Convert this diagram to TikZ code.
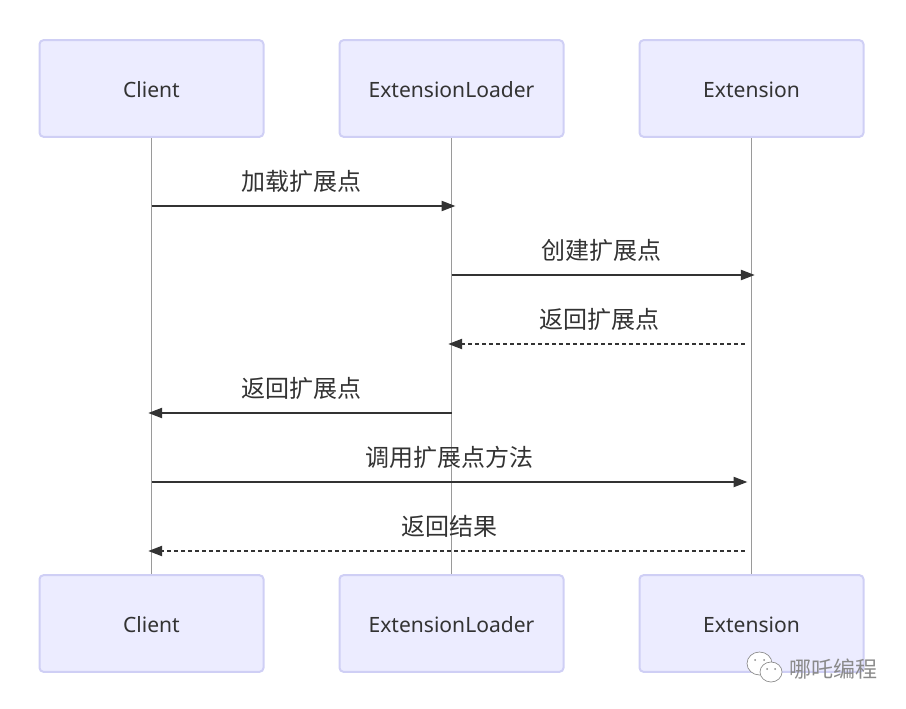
\documentclass[tikz,border=0pt]{standalone}
\usepackage{fontspec}
\setmainfont{Noto Sans}
\newfontfamily\cjk{Noto Sans CJK SC}
\usetikzlibrary{arrows.meta}
\usetikzlibrary{backgrounds}
\usetikzlibrary{positioning}
\definecolor{boxfill}{HTML}{ECECFF}
\definecolor{boxline}{HTML}{CFCFF5}
\definecolor{inkdark}{HTML}{333333}
\definecolor{lifeline}{HTML}{9A9A9A}
\definecolor{markgray}{HTML}{8A8A8A}
\tikzset{>={Triangle[length=10.5pt,width=7.5pt]},
  actorbox/.style={draw=boxline,fill=boxfill,line width=1.5pt,rounded corners=3pt,
    minimum width=168pt,minimum height=72.5pt,outer sep=0pt,inner sep=0pt,
    text height=13pt,text depth=0pt,
    text=inkdark,font=\fontsize{15.8}{20}\selectfont},
  life/.style={draw=lifeline,line width=0.75pt},
  msg/.style={draw=inkdark,line width=1.7pt,->},
  ret/.style={msg,dash pattern=on 3pt off 2.25pt},
  msglabel/.style={above=9pt,inner sep=0pt,text=inkdark,font=\cjk\fontsize{18}{20}\selectfont}}

\begin{document}
\begin{tikzpicture}[x=0.75pt,y=-0.75pt,node distance=225pt]
    \useasboundingbox (0,0) rectangle (906,709);

    \node[actorbox] (c1) at (151.5,88.5) {Client};
    \node[actorbox] (l1) [right of=c1] {ExtensionLoader};
    \node[actorbox] (e1) [right of=l1] {Extension};
    \node[actorbox] (c2) [below of=c1,node distance=401.25pt] {Client};
    \node[actorbox] (l2) [below of=l1,node distance=401.25pt] {ExtensionLoader};
    \node[actorbox] (e2) [below of=e1,node distance=401.25pt] {Extension};

    \begin{scope}[on background layer]
      \path (c1) edge[life] (c2);
      \path (l1) edge[life] (l2);
      \path (e1) edge[life] (e2);
    \end{scope}

    \coordinate (a1) at (c1 |- 0,206);
    \coordinate (b1) at (l1 |- 0,206);
    \coordinate (a2) at (l1 |- 0,275);
    \coordinate (b2) at (e1 |- 0,275);
    \coordinate (a3) at (e1 |- 0,344);
    \coordinate (b3) at (l1 |- 0,344);
    \coordinate (a4) at (l1 |- 0,413);
    \coordinate (b4) at (c1 |- 0,413);
    \coordinate (a5) at (c1 |- 0,482);
    \coordinate (b5) at (e1 |- 0,482);
    \coordinate (a6) at (e1 |- 0,551);
    \coordinate (b6) at (c1 |- 0,551);

    \path (a1) edge[msg,shorten >=-3pt] node[msglabel] {加载扩展点} (b1);
    \path (a2) edge[msg,shorten >=-2.5pt] node[msglabel] {创建扩展点} (b2);
    \path (a3) edge[ret,shorten <=5pt,shorten >=-2.5pt] node[msglabel,xshift=-1.5pt] {返回扩展点} (b3);
    \path (a4) edge[msg,shorten >=-2.5pt] node[msglabel] {返回扩展点} (b4);
    \path (a5) edge[msg,shorten >=3pt] node[msglabel,xshift=-1.5pt] {调用扩展点方法} (b5);
    \path (a6) edge[ret,shorten <=5pt,shorten >=-2.5pt] node[msglabel,xshift=-1.5pt] {返回结果} (b6);

    % watermark
    \draw[markgray,line width=0.5pt,fill=white] (759.5,663.5) ellipse [x radius=12.5,y radius=11.5];
    \draw[markgray,line width=0.5pt,fill=white] (771,672) ellipse [x radius=11,y radius=10];
    \fill[markgray] (755,660) circle (1) (764,660) circle (1) (767,669) circle (1) (775,669) circle (1);
    \node (mark) at (833,669) [inner sep=0pt,text=markgray,font=\cjk\fontsize{16.5}{18}\selectfont] {哪吒编程};
\end{tikzpicture}
\end{document}
